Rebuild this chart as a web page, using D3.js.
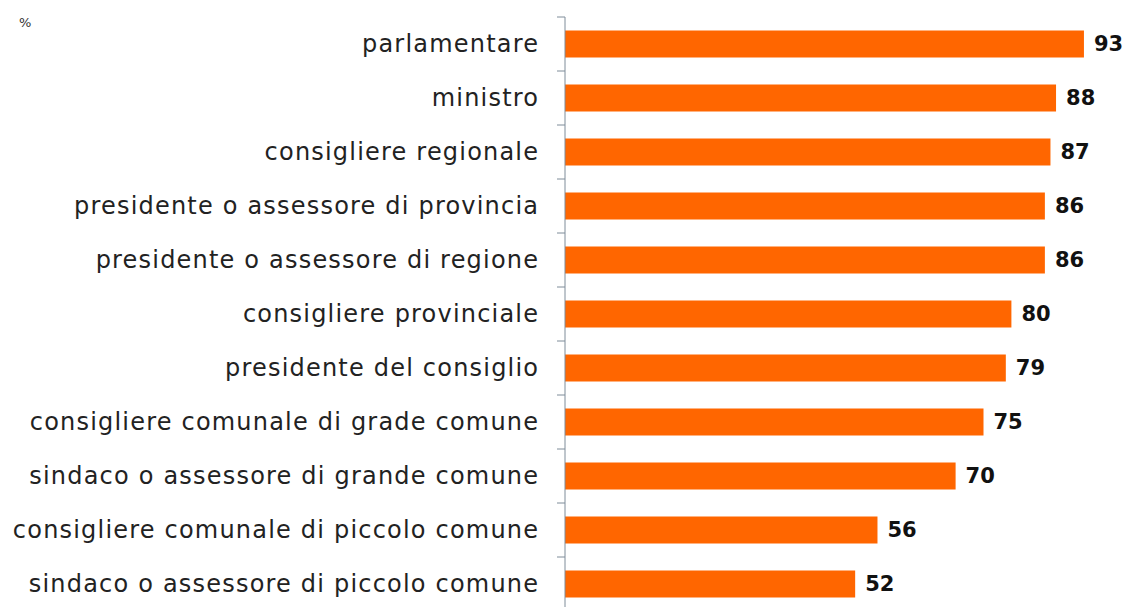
<!DOCTYPE html>
<html>
<head>
<meta charset="utf-8">
<script src="https://cdn.jsdelivr.net/npm/d3@7"></script>
<style>
  html, body { margin: 0; padding: 0; background: #fff; }
  svg { display: block; }
</style>
</head>
<body>
<svg id="chart" width="1124" height="607"></svg>
<script>
// Categories, top to bottom
const categories = [
  "parlamentare",
  "ministro",
  "consigliere regionale",
  "presidente o assessore di provincia",
  "presidente o assessore di regione",
  "consigliere provinciale",
  "presidente del consiglio",
  "consigliere comunale di grade comune",
  "sindaco o assessore di grande comune",
  "consigliere comunale di piccolo comune",
  "sindaco o assessore di piccolo comune"
];
// Percent values
const values = [93, 88, 87, 86, 86, 80, 79, 75, 70, 56, 52];
const unitLabel = "%";

const data = categories.map((c, i) => ({ cat: c, val: values[i] }));

const svg = d3.select("#chart");
const axisX = 565;
const plotTop = 17;
const step = 54;

const x = d3.scaleLinear().domain([0, 100]).range([axisX, axisX + 558]);
const y = d3.scaleBand()
  .domain(categories)
  .range([plotTop, plotTop + step * categories.length])
  .paddingInner(0.5)
  .paddingOuter(0.25);

// Bars
svg.append("g").selectAll("rect")
  .data(data)
  .join("rect")
  .attr("x", x(0))
  .attr("y", d => y(d.cat))
  .attr("width", d => x(d.val) - x(0))
  .attr("height", y.bandwidth())
  .attr("fill", "#ff6600");

// Category axis with ticks between bars
const yAxis = svg.append("g").attr("transform", `translate(${axisX},0)`);
yAxis.append("line")
  .attr("x1", 0).attr("x2", 0)
  .attr("y1", plotTop).attr("y2", plotTop + step * categories.length)
  .attr("stroke", "#7f8c99").attr("stroke-width", 1);
const tickYs = d3.range(categories.length + 1).map(i => plotTop + i * step);
yAxis.selectAll("line.tick")
  .data(tickYs)
  .join("line")
  .attr("class", "tick")
  .attr("x1", -8).attr("x2", 0)
  .attr("y1", d => d).attr("y2", d => d)
  .attr("stroke", "#7f8c99").attr("stroke-width", 1);

// Category labels (letter-spacing adds a trailing gap, so shift right by it)
const labelSpacing = 1.2;
svg.append("g").selectAll("text")
  .data(data)
  .join("text")
  .attr("x", axisX - 27 + labelSpacing)
  .attr("y", d => y(d.cat) + y.bandwidth() / 2)
  .attr("dy", "0.35em")
  .attr("text-anchor", "end")
  .attr("font-family", "'DejaVu Sans', sans-serif")
  .attr("font-size", 24)
  .attr("letter-spacing", labelSpacing)
  .attr("fill", "#222")
  .text(d => d.cat);

// Value labels
svg.append("g").selectAll("text")
  .data(data)
  .join("text")
  .attr("x", d => x(d.val) + 10)
  .attr("y", d => y(d.cat) + y.bandwidth() / 2)
  .attr("dy", "0.35em")
  .attr("font-family", "'DejaVu Sans', sans-serif")
  .attr("font-weight", "bold")
  .attr("font-size", 21)
  .attr("fill", "#111")
  .text(d => d.val);

// Unit marker
svg.append("text")
  .attr("x", 19).attr("y", 27)
  .attr("font-family", "'DejaVu Sans', sans-serif")
  .attr("font-size", 13)
  .attr("fill", "#333")
  .text(unitLabel);
</script>
</body>
</html>
